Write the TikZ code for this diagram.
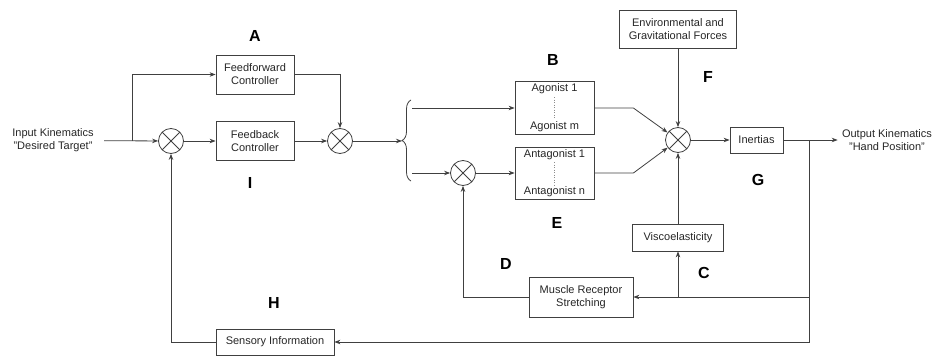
\documentclass[tikz,border=0pt]{standalone}
\usepackage{fontspec}
\setmainfont{Liberation Sans}
\usepackage{tikz}
\usetikzlibrary{arrows.meta,decorations.pathreplacing}

\begin{document}
\begin{tikzpicture}[x=1pt,y=-1pt,>={Stealth[length=6pt,width=4.5pt]},
    line width=0.8pt,draw=black!75,
    txt/.style={font=\fontsize{11}{13}\selectfont,text=black!85,align=center,inner sep=0pt},
    blk/.style={draw,txt,minimum width=#1},
    sum/.style={circle,draw,minimum size=25pt,inner sep=0pt,
      path picture={\draw (path picture bounding box.north west) -- (path picture bounding box.south east)
        (path picture bounding box.north east) -- (path picture bounding box.south west);}},
    lbl/.style={font=\fontsize{16}{16}\selectfont\bfseries,text=black}]
	  \useasboundingbox (0,0) rectangle (935,356);
	  \node[txt,inner xsep=10pt] (in) at (53,140.5) {Input Kinematics\\"Desired Target"};
	  \node[txt,inner xsep=4pt] (out) at (887,140) {Output Kinematics\\"Hand Position"};
	  \node[sum] (s1) at (171,141) {};
	  \node[sum] (s2) at (340,141) {};
	  \node[sum] (s3) at (463,173) {};
	  \node[sum] (s4) at (678,140) {};
	  \node[blk=78pt,minimum height=39pt] (ff) at (255,74.5) {Feedforward\\Controller};
	  \node[blk=78pt,minimum height=39pt] (fb) at (255,141) {Feedback\\Controller};
	  \node[blk=79pt,minimum height=53pt] (ag) at (554.5,108) {};
	  \node[blk=79pt,minimum height=52pt] (an) at (554.5,173) {};
	  \node[txt] (ag1) at (554.5,89) {Agonist 1};
	  \node[txt] (agm) at (554.5,126.5) {Agonist m};
	  \node[txt] (an1) at (554.5,155) {Antagonist 1};
	  \node[txt] (ann) at (554.5,192) {Antagonist n};
	  \draw[dotted,line width=0.5pt,black!45] (554.5,97) -- (554.5,119);
	  \draw[dotted,line width=0.5pt,black!45] (554.5,162) -- (554.5,185);
	  \node[blk=117pt,minimum height=38pt] (env) at (678,29) {Environmental and\\Gravitational Forces};
	  \node[blk=53pt,minimum height=26pt] (inert) at (756.5,140) {Inertias};
	  \node[blk=91pt,minimum height=27pt] (visco) at (678,237.5) {Viscoelasticity};
	  \node[blk=104pt,minimum height=40pt] (musc) at (581,297) {Muscle Receptor\\Stretching};
	  \node[blk=118pt,minimum height=26pt] (sens) at (275,342) {Sensory Information};
	  \node[lbl] (la) at (255,36) {A};
	  \node[lbl] (lb) at (553,60) {B};
	  \node[lbl] (lc) at (704,273) {C};
	  \node[lbl] (ld) at (506,264) {D};
	  \node[lbl] (le) at (557,223) {E};
	  \node[lbl] (lf) at (708,77) {F};
	  \node[lbl] (lg) at (758,180) {G};
	  \node[lbl] (lh) at (274,303) {H};
	  \node[lbl] (li) at (250,183) {I};
	  \coordinate (split) at (132,141);
	  \coordinate (brtip) at (402,141);
	  \coordinate (brtop) at (412,108);
	  \coordinate (brbot) at (412,173);
	  \coordinate (tap) at (809,140);
	  \coordinate (tap2) at (809,297);
	  \coordinate (vtap) at (678,297);
	  \draw[decorate,decoration={brace,amplitude=9pt}] (411,181) -- (411,100);
	  \draw[->] (in) -- (s1);
	  \draw[->] (split) |- (ff.west);
	  \draw[->] (s1) -- (fb);
	  \draw[->] (ff.east) -| (s2);
	  \draw[->] (fb) -- (s2);
	  \draw[->] (s2) -- (brtip);
	  \draw[->] (brtop) -- (ag.west);
	  \draw[->] (brbot) -- (s3);
	  \draw[->] (s3) -- (an.west);
	  \draw[->] (ag.east) -- ++(39,0) -- (s4);
	  \draw[->] (an.east) -- ++(39,0) -- (s4);
	  \draw[->] (env) -- (s4);
	  \draw[->] (visco) -- (s4);
	  \draw[->] (s4) -- (inert);
	  \draw[->] (inert) -- (out);
	  \draw[->] (tap) |- (sens.east);
	  \draw[->] (tap2) -- (musc.east);
	  \draw[->] (vtap) -- (visco.south);
	  \draw[->] (musc.west) -| (s3);
	  \draw[->] (sens.west) -| (s1);
	\end{tikzpicture}
\end{document}
